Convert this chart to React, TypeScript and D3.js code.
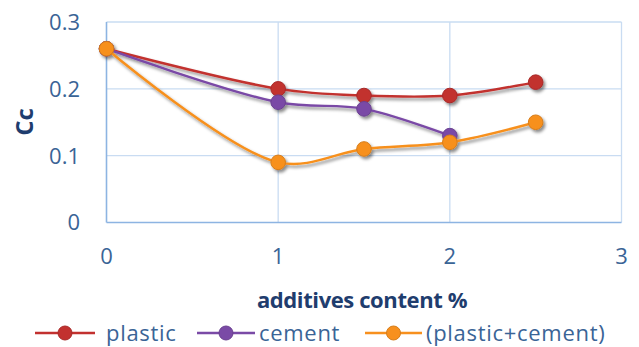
import React from "react";
import * as d3 from "d3";

// Additive content (%) on the x axis
const contentX = [0, 1, 1.5, 2, 2.5];

// Cc values for each mixture
const plasticCc = [0.26, 0.2, 0.19, 0.19, 0.21];
const cementCc = [0.26, 0.18, 0.17, 0.13];
const plasticCementCc = [0.26, 0.09, 0.11, 0.12, 0.15];

const seriesNames = ["plastic", "cement", "(plastic+cement)"];
const seriesColors = ["#C2312F", "#7A4AA6", "#F7901E"];

const xTicks = [0, 1, 2, 3];
const yTicks = [0, 0.1, 0.2, 0.3];

const W = 639;
const H = 347;
const FONT = "'Open Sans', 'Noto Sans', sans-serif";
const TICK_COLOR = "#3A6496";
const TITLE_COLOR = "#1F3D6E";

export default function App() {
  const x = d3.scaleLinear().domain([0, 3]).range([106.5, 621.5]);
  const y = d3.scaleLinear().domain([0, 0.3]).range([222.5, 22]);

  const line = d3
    .line<[number, number]>()
    .x((d) => x(d[0]))
    .y((d) => y(d[1]))
    .curve(d3.curveCatmullRom.alpha(0.5));

  const series = [plasticCc, cementCc, plasticCementCc].map((vals, i) => ({
    name: seriesNames[i],
    color: seriesColors[i],
    points: vals.map((v, j) => [contentX[j], v] as [number, number]),
  }));

  const legendItems = [
    { lineX0: 35, lineX1: 95, textX: 106 },
    { lineX0: 197, lineX1: 255, textX: 259 },
    { lineX0: 365, lineX1: 422, textX: 426 },
  ];
  const legendY = 333;

  return (
    <svg
      width={W}
      height={H}
      viewBox={`0 0 ${W} ${H}`}
      style={{ position: "fixed", left: 0, top: 0, background: "#fff" }}
    >
      <defs>
        <filter id="shadow" x="-20%" y="-20%" width="140%" height="140%">
          <feDropShadow dx="2" dy="2.5" stdDeviation="1.8" floodColor="#000" floodOpacity="0.45" />
        </filter>
      </defs>
      <rect x={0} y={0} width={W} height={H} fill="#fff" />

      {/* gridlines */}
      <g stroke="#C9DCF2" strokeWidth={1.3}>
        {yTicks.filter((t) => t > 0).map((t) => (
          <line key={`gy${t}`} x1={x(0)} x2={x(3)} y1={y(t)} y2={y(t)} />
        ))}
        {xTicks.filter((t) => t > 0).map((t) => (
          <line key={`gx${t}`} x1={x(t)} x2={x(t)} y1={y(0.3)} y2={y(0)} />
        ))}
      </g>
      {/* axes */}
      <g stroke="#8DB4E2" strokeWidth={1.6}>
        <line x1={x(0)} x2={x(0)} y1={y(0.3)} y2={y(0)} />
        <line x1={x(0)} x2={x(3)} y1={y(0)} y2={y(0)} />
      </g>

      {/* tick labels */}
      <g fontFamily={FONT} fontSize={22} fill={TICK_COLOR}>
        {yTicks.map((t) => (
          <text key={`ty${t}`} x={80} y={y(t)} dy="0.36em" textAnchor="end">
            {t === 0 ? "0" : d3.format(".1f")(t)}
          </text>
        ))}
        {xTicks.map((t) => (
          <text key={`tx${t}`} x={x(t)} y={264} textAnchor="middle">
            {t}
          </text>
        ))}
      </g>

      {/* axis titles */}
      <text
        x={362}
        y={308}
        textAnchor="middle"
        fontFamily={FONT}
        fontWeight="bold"
        fontSize={22}
        letterSpacing={-0.4}
        fill={TITLE_COLOR}
      >
        additives content %
      </text>
      <text
        transform={`translate(33,122) rotate(-90)`}
        textAnchor="middle"
        fontFamily={FONT}
        fontWeight="bold"
        fontSize={24}
        fill={TITLE_COLOR}
      >
        Cc
      </text>

      {/* series */}
      <g filter="url(#shadow)">
        {series.map((s) => (
          <g key={s.name}>
            <path d={line(s.points) ?? ""} fill="none" stroke={s.color} strokeWidth={2.4} />
            {s.points.map((p, j) => (
              <circle
                key={j}
                cx={x(p[0])}
                cy={y(p[1])}
                r={7.3}
                fill={s.color}
                stroke={d3.color(s.color)!.darker(0.4).toString()}
                strokeWidth={1}
              />
            ))}
          </g>
        ))}
      </g>

      {/* legend */}
      <g fontFamily={FONT} fontSize={22} letterSpacing={0.7} fill={TICK_COLOR}>
        {series.map((s, i) => {
          const it = legendItems[i];
          return (
            <g key={s.name}>
              <line
                x1={it.lineX0}
                x2={it.lineX1}
                y1={legendY}
                y2={legendY}
                stroke={s.color}
                strokeWidth={2.4}
              />
              <circle
                cx={(it.lineX0 + it.lineX1) / 2}
                cy={legendY}
                r={7}
                fill={s.color}
                stroke={d3.color(s.color)!.darker(0.4).toString()}
                strokeWidth={1}
              />
              <text x={it.textX} y={legendY} dy="0.36em">
                {s.name}
              </text>
            </g>
          );
        })}
      </g>
    </svg>
  );
}
